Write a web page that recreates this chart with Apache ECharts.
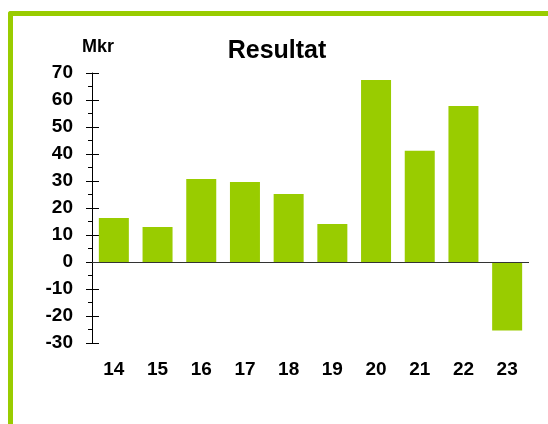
<!DOCTYPE html>
<html>
<head>
<meta charset="utf-8">
<script src="https://cdn.jsdelivr.net/npm/echarts@6/dist/echarts.min.js"></script>
<style>
  html, body { margin: 0; padding: 0; background: #fff; }
  #frame {
    position: absolute; left: 8px; top: 11px; width: 548px; height: 424px;
    border-top: 5px solid #99cc00; border-left: 5px solid #99cc00;
    border-top-left-radius: 3px;
  }
  #echarts { position: absolute; left: 0; top: 0; width: 548px; height: 424px; }
</style>
</head>
<body>
<div id="frame"></div>
<div id="echarts"></div>
<script>
// år (kategorier)
var years = ['14', '15', '16', '17', '18', '19', '20', '21', '22', '23'];
// resultat i Mkr
var resultat = [16.3, 13.0, 30.7, 29.6, 25.2, 14.1, 67.4, 41.2, 57.8, -25.4];
// y-axelns skala
var yMin = -30, yMax = 70, yStep = 10;

window.onload = function () {
    var font = 'Liberation Sans, Arial, sans-serif';
    var option = {
        animation: false,
        title: [{
            text: 'Resultat',
            left: 277, top: 39, textAlign: 'center', padding: 0,
            textStyle: { fontFamily: font, fontSize: 25, fontWeight: 'bold', color: '#000' }
        }, {
            text: 'Mkr',
            left: 82, top: 38, padding: 0,
            textStyle: { fontFamily: font, fontSize: 18, fontWeight: 'bold', color: '#000' }
        }],
        grid: { left: 92, right: 19, top: 73, bottom: 81 },
        xAxis: {
            type: 'category',
            data: years,
            axisLine: { show: false, onZero: false },
            axisTick: { show: false },
            axisLabel: { margin: 17, fontFamily: font, fontSize: 19, fontWeight: 'bold', color: '#000' }
        },
        yAxis: [{
            type: 'value',
            min: yMin, max: yMax, interval: yStep,
            axisLine: { show: true, lineStyle: { color: '#000', width: 1 } },
            axisTick: { show: true, length: 6, lineStyle: { color: '#000' } },
            minorTick: { show: true, splitNumber: 2, length: 4, lineStyle: { color: '#000' } },
            splitLine: { show: false },
            axisLabel: { margin: 19, fontFamily: font, fontSize: 19, fontWeight: 'bold', color: '#000' }
        }, {
            // ticks innanför axeln
            type: 'value',
            position: 'left',
            min: yMin, max: yMax, interval: yStep,
            axisLine: { show: false },
            axisTick: { show: true, inside: true, length: 7, lineStyle: { color: '#000' } },
            splitLine: { show: false },
            axisLabel: { show: false }
        }],
        series: [{
            type: 'bar',
            data: resultat,
            barWidth: 30,
            itemStyle: { color: '#99cc00' },
            markLine: {
                silent: true,
                symbol: 'none',
                label: { show: false },
                lineStyle: { color: '#333', type: 'solid', width: 1 },
                data: [{ yAxis: 0 }]
            }
        }]
    };

    var mychart = echarts.init(document.getElementById('echarts'));
    mychart.setOption(option);
};
</script>
</body>
</html>
